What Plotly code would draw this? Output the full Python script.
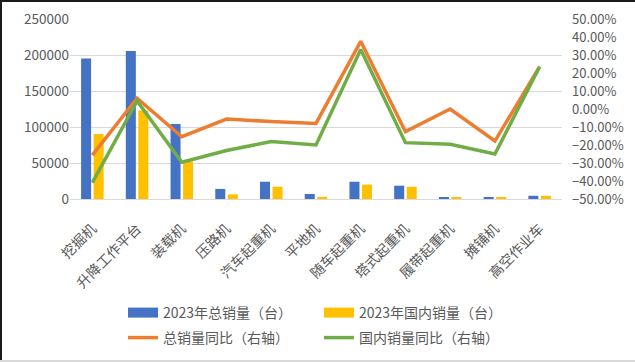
import plotly.graph_objects as go

categories = ["挖掘机", "升降工作平台", "装载机", "压路机", "汽车起重机", "平地机",
              "随车起重机", "塔式起重机", "履带起重机", "摊铺机", "高空作业车"]
total_sales = [195000, 205500, 104200, 14000, 24000, 7000, 24000, 18500, 2800, 2500, 4500]
domestic_sales = [90300, 123000, 52000, 6500, 17100, 3000, 20000, 17000, 2500, 2300, 4400]
total_yoy = [-0.256, 0.06, -0.154, -0.056, -0.07, -0.08, 0.376, -0.126, 0.0, -0.178, 0.235]
domestic_yoy = [-0.409, 0.045, -0.296, -0.231, -0.181, -0.20, 0.330, -0.187, -0.196, -0.25, 0.235]

left_ticks = [0, 50000, 100000, 150000, 200000, 250000]
right_ticks = [-0.5, -0.4, -0.3, -0.2, -0.1, 0, 0.1, 0.2, 0.3, 0.4, 0.5]

names = ["2023年总销量（台）", "2023年国内销量（台）", "总销量同比（右轴）", "国内销量同比（右轴）"]
colors = ["#4472C4", "#FFC000", "#ED7D31", "#70AD47"]

W, H = 635, 362
ML, MR, MT, MB = 70, 73, 19, 163
PW, PH = W - ML - MR, H - MT - MB


def px(x):
    return (x - ML) / PW


def py(y):
    return (H - MB - y) / PH


FONT = "Noto Sans CJK SC"
GREY = "#595959"

fig = go.Figure()
fig.add_trace(go.Bar(x=categories, y=total_sales, name=names[0], marker_color=colors[0],
                     showlegend=False, offsetgroup="a"))
fig.add_trace(go.Bar(x=categories, y=domestic_sales, name=names[1], marker_color=colors[1],
                     showlegend=False, offsetgroup="b"))
# legend swatches for the bars
for i in range(2):
    fig.add_trace(go.Scatter(x=[None], y=[None], mode="lines", name=names[i],
                             line=dict(color=colors[i], width=10), legend="legend"))
fig.add_trace(go.Scatter(x=categories, y=total_yoy, name=names[2], mode="lines",
                         line=dict(color=colors[2], width=3.5), yaxis="y2", legend="legend2"))
fig.add_trace(go.Scatter(x=categories, y=domestic_yoy, name=names[3], mode="lines",
                         line=dict(color=colors[3], width=3.5), yaxis="y2", legend="legend2"))

legend_common = dict(orientation="h", xanchor="left", x=px(123), yanchor="middle",
                     entrywidth=151, entrywidthmode="pixels",
                     font=dict(family=FONT, size=14, color=GREY),
                     bgcolor="rgba(0,0,0,0)", itemclick=False, itemdoubleclick=False)

fig.update_layout(
    template="none",
    width=W, height=H,
    margin=dict(l=ML, r=MR, t=MT, b=MB, autoexpand=False),
    paper_bgcolor="white", plot_bgcolor="white",
    font=dict(family=FONT, size=14, color=GREY),
    barmode="group", bargap=0.44, bargroupgap=0.2,
    xaxis=dict(type="category", tickangle=-45, showgrid=False, showline=True,
               linecolor="#D9D9D9", linewidth=1, ticks="", automargin=False,
               ticklabelstandoff=15,
               tickfont=dict(family=FONT, size=14, color=GREY)),
    yaxis=dict(range=[0, 250000], tickvals=left_ticks, tickformat="d",
               showgrid=True, gridcolor="#D9D9D9", gridwidth=1, zeroline=False,
               ticks="", automargin=False, showline=False,
               tickfont=dict(family=FONT, size=13.5, color=GREY)),
    yaxis2=dict(range=[-0.5, 0.5], tickvals=right_ticks, tickformat=".2%",
                overlaying="y", side="right", showgrid=False, zeroline=False,
                ticks="", automargin=False, showline=False, ticklabelstandoff=9,
                tickfont=dict(family=FONT, size=13, color=GREY)),
    legend=dict(y=py(313), **legend_common),
    legend2=dict(y=py(338), **legend_common),
    shapes=[
        dict(type="line", xref="paper", yref="paper", x0=px(0), x1=px(W), y0=py(1), y1=py(1),
             line=dict(color="#1a1a1a", width=2)),
        dict(type="line", xref="paper", yref="paper", x0=px(1), x1=px(1), y0=py(0), y1=py(H),
             line=dict(color="#1a1a1a", width=2)),
        dict(type="line", xref="paper", yref="paper", x0=px(0), x1=px(W), y0=py(H - 1), y1=py(H - 1),
             line=dict(color="#D9D9D9", width=2)),
    ],
)

fig.write_html("out.html", config={"displayModeBar": False},
               post_script="document.body.style.margin='0';document.body.style.overflow='hidden';")
